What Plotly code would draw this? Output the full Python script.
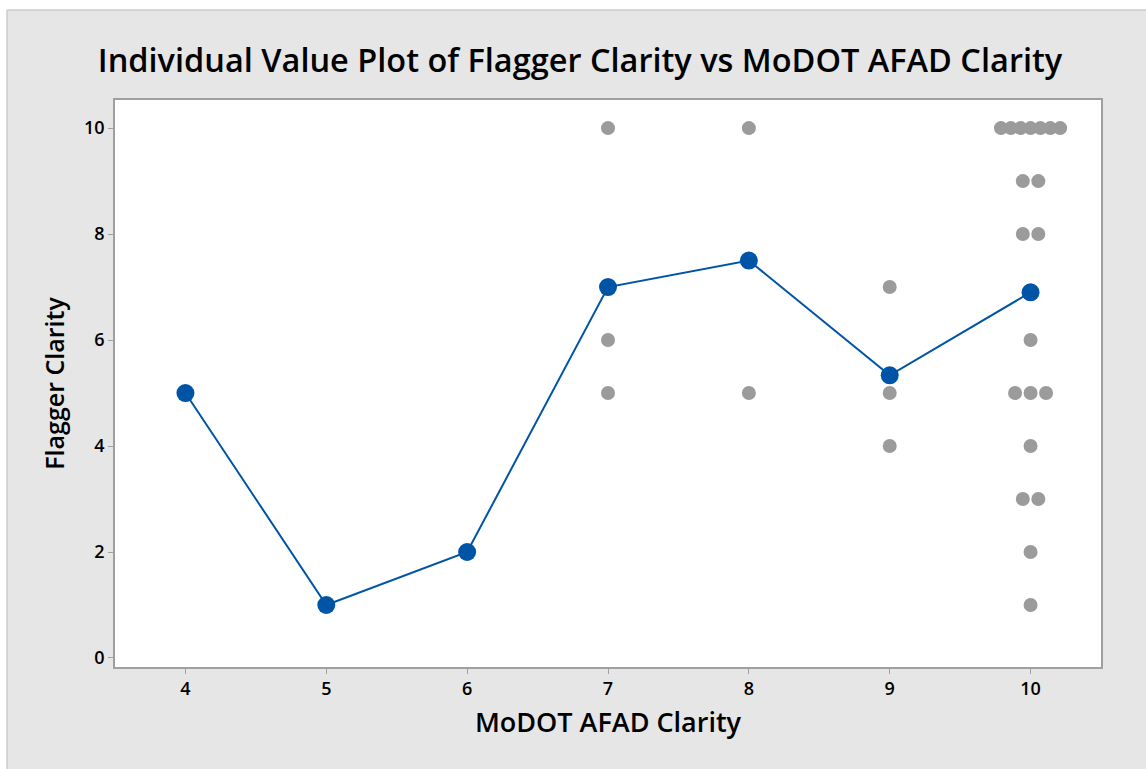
import numpy as np
import plotly.graph_objects as go

# MoDOT AFAD Clarity levels and the Flagger Clarity ratings observed at each
afad_levels = [4, 5, 6, 7, 8, 9, 10]
ratings_4 = [5]
ratings_5 = [1]
ratings_6 = [2]
ratings_7 = [10, 6, 5]
ratings_8 = [10, 5]
ratings_9 = [7, 5, 4]
ratings_10 = [10, 10, 10, 10, 10, 10, 10, 9, 9, 8, 8, 6, 5, 5, 5, 4, 3, 3, 2, 1]
ratings = [ratings_4, ratings_5, ratings_6, ratings_7, ratings_8, ratings_9, ratings_10]

x_ticks = [4, 5, 6, 7, 8, 9, 10]
y_ticks = [0, 2, 4, 6, 8, 10]

GRAY = "#9B9B9B"
BLUE = "#0054A6"
FONT = "Open Sans"


def dodge(level, vals, max_step=0.11, max_span=0.42):
    """Spread tied values side by side around the group position."""
    xs, ys = [], []
    for v in sorted(set(vals), reverse=True):
        n = vals.count(v)
        step = min(max_step, max_span / (n - 1)) if n > 1 else 0.0
        for i in range(n):
            xs.append(level + (i - (n - 1) / 2) * step)
            ys.append(v)
    return xs, ys


pts_x, pts_y = [], []
for lvl, vals in zip(afad_levels, ratings):
    xs, ys = dodge(lvl, vals)
    pts_x += xs
    pts_y += ys

means = [float(np.mean(v)) for v in ratings]

fig = go.Figure()
fig.add_trace(go.Scatter(
    x=pts_x, y=pts_y, mode="markers",
    marker=dict(color=GRAY, size=14, line=dict(width=0)),
    hoverinfo="x+y", showlegend=False,
))
fig.add_trace(go.Scatter(
    x=afad_levels, y=means, mode="lines+markers",
    line=dict(color=BLUE, width=2),
    marker=dict(color=BLUE, size=18, line=dict(width=0)),
    showlegend=False,
))

# outer frame: white margin strips on the top and left with a thin border
W, H = 1146, 769
L, R, T, B = 115, 45, 100, 102
pw, ph = W - L - R, H - T - B
fx = (7 - L) / pw
fy = (H - B - 10) / ph

shapes = [
    dict(type="rect", xref="paper", yref="paper", x0=-0.3, x1=1.2, y0=fy, y1=1.4,
         fillcolor="white", line=dict(width=0), layer="below"),
    dict(type="rect", xref="paper", yref="paper", x0=-0.3, x1=fx, y0=-0.4, y1=1.4,
         fillcolor="white", line=dict(width=0), layer="below"),
    dict(type="line", xref="paper", yref="paper", x0=fx, x1=1.2, y0=fy, y1=fy,
         line=dict(color="#CBCBCB", width=1.5)),
    dict(type="line", xref="paper", yref="paper", x0=fx, x1=fx, y0=-0.4, y1=fy,
         line=dict(color="#CBCBCB", width=1.5)),
]

axis_common = dict(
    showgrid=False, zeroline=False, showline=True, mirror=True,
    linecolor="#A0A0A0", linewidth=1.5,
    ticks="outside", ticklen=5, tickwidth=1, tickcolor="#A0A0A0",
    tickfont=dict(family=FONT, size=18, color="black", weight=600),
)

fig.update_layout(
    width=W, height=H,
    margin=dict(l=L, r=R, t=T, b=B),
    paper_bgcolor="#E6E6E6",
    plot_bgcolor="white",
    shapes=shapes,
    title=dict(
        text="Individual Value Plot of Flagger Clarity vs MoDOT AFAD Clarity",
        x=580 / W, xanchor="center", y=1 - 61 / H, yanchor="middle",
        font=dict(family=FONT, size=32.5, color="black", weight=600),
    ),
    xaxis=dict(
        range=[3.5, 10.5], tickvals=x_ticks, ticktext=[str(t) for t in x_ticks],
        title=dict(text="MoDOT AFAD Clarity", standoff=14,
                   font=dict(family=FONT, size=27, color="black", weight=600)),
        **axis_common,
    ),
    yaxis=dict(
        range=[-0.17, 10.53], tickvals=y_ticks, ticktext=[str(t) for t in y_ticks],
        title=dict(text="Flagger Clarity", standoff=12,
                   font=dict(family=FONT, size=25, color="black", weight=600)),
        **axis_common,
    ),
)

fig.write_html("out.html")
